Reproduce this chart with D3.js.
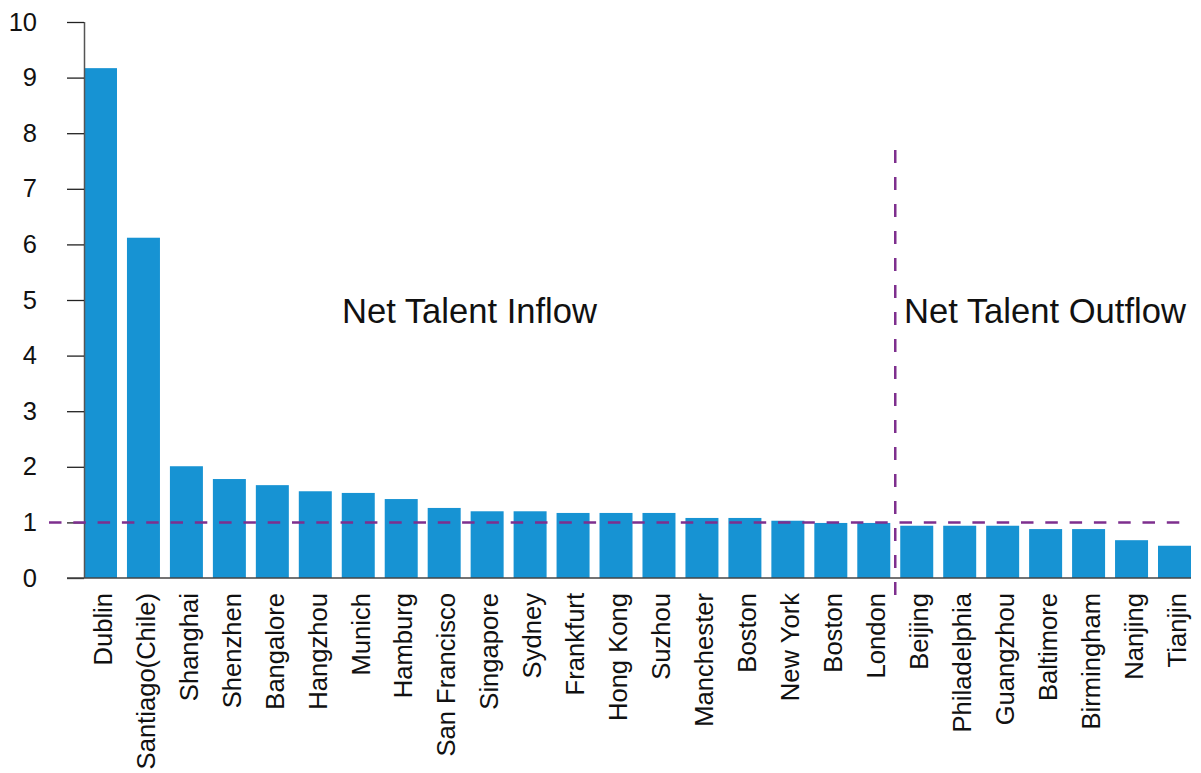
<!DOCTYPE html>
<html>
<head>
<meta charset="utf-8">
<script src="https://cdn.jsdelivr.net/npm/d3@7"></script>
<style>
  html, body { margin: 0; padding: 0; background: #fff; }
  svg { display: block; font-family: "Liberation Sans", Arial, sans-serif; }
</style>
</head>
<body>
<svg id="chart" width="1201" height="773"></svg>
<script>
// City talent flow ratio (inflow / outflow)
const cities = ["Dublin", "Santiago(Chile)", "Shanghai", "Shenzhen", "Bangalore", "Hangzhou",
  "Munich", "Hamburg", "San Francisco", "Singapore", "Sydney", "Frankfurt", "Hong Kong",
  "Suzhou", "Manchester", "Boston", "New York", "Boston", "London", "Beijing",
  "Philadelphia", "Guangzhou", "Baltimore", "Birmingham", "Nanjing", "Tianjin"];
const ratios = [9.17, 6.12, 2.01, 1.78, 1.67, 1.56, 1.53, 1.42, 1.26, 1.20, 1.20, 1.17, 1.17,
  1.17, 1.08, 1.08, 1.03, 0.99, 0.99, 0.94, 0.94, 0.94, 0.88, 0.88, 0.68, 0.58];
const yTicks = [0, 1, 2, 3, 4, 5, 6, 7, 8, 9, 10];
const breakEven = 1;
const inflowLabel = "Net Talent Inflow";
const outflowLabel = "Net Talent Outflow";
const lastInflowIndex = 18; // London

const svg = d3.select("#chart");
const plotLeft = 84, plotRight = 1191, plotTop = 22, plotBottom = 578;

const x = d3.scaleBand()
  .domain(d3.range(cities.length))
  .range([plotLeft, plotRight])
  .paddingInner(0.232)
  .paddingOuter(0);

const y = d3.scaleLinear().domain([0, 10]).range([plotBottom, plotTop]);

// bars
svg.append("g").selectAll("rect")
  .data(ratios)
  .join("rect")
  .attr("x", (d, i) => x(i))
  .attr("y", d => y(d))
  .attr("width", x.bandwidth())
  .attr("height", d => y(0) - y(d))
  .attr("fill", "#1793d3");

// y axis
const yAxis = svg.append("g")
  .attr("transform", `translate(${plotLeft},0)`)
  .call(d3.axisLeft(y).tickValues(yTicks).tickSize(17).tickPadding(30).tickFormat(d3.format("d")));
yAxis.select(".domain").attr("stroke", "#555").attr("stroke-width", 1.5)
  .attr("d", `M0.5,${plotTop}V${plotBottom}`);
yAxis.selectAll(".tick line").attr("stroke", "#222").attr("stroke-width", 1.3);
yAxis.selectAll(".tick text")
  .attr("font-size", 25.5)
  .attr("fill", "#111")
  .attr("font-family", "Liberation Sans, Arial, sans-serif");

// x baseline
svg.append("line")
  .attr("x1", plotLeft - 17).attr("x2", plotRight)
  .attr("y1", y(0)).attr("y2", y(0))
  .attr("stroke", "#444").attr("stroke-width", 1.6);

// category labels
svg.append("g").selectAll("text")
  .data(cities)
  .join("text")
  .attr("transform", (d, i) => `translate(${x(i) + x.bandwidth() / 2},${y(0) + 15}) rotate(-90)`)
  .attr("text-anchor", "end")
  .attr("dy", "0.44em")
  .attr("font-size", 25.6)
  .attr("fill", "#111")
  .text(d => d);

// break-even reference line at ratio 1
svg.append("line")
  .attr("x1", 49).attr("x2", plotRight)
  .attr("y1", y(breakEven)).attr("y2", y(breakEven))
  .attr("stroke", "#7e2f8e").attr("stroke-width", 2.5)
  .attr("stroke-dasharray", "12.5,11.8");

// divider between inflow and outflow cities
const divX = (x(lastInflowIndex) + x.bandwidth() + x(lastInflowIndex + 1)) / 2;
svg.append("line")
  .attr("x1", divX).attr("x2", divX)
  .attr("y1", y(7.7)).attr("y2", y(0) + 25)
  .attr("stroke", "#7e2f8e").attr("stroke-width", 2.5)
  .attr("stroke-dasharray", "13,14");

// region annotations
svg.append("text")
  .attr("x", 342).attr("y", 323)
  .attr("font-size", 34.6).attr("fill", "#111")
  .text(inflowLabel);
svg.append("text")
  .attr("x", 904).attr("y", 323)
  .attr("font-size", 34.6).attr("fill", "#111")
  .text(outflowLabel);
</script>
</body>
</html>
